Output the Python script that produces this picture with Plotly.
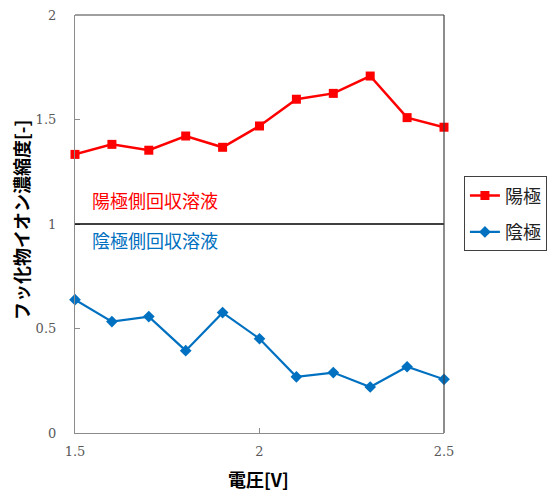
import plotly.graph_objects as go

# Applied voltage [V]
voltage = [1.5, 1.6, 1.7, 1.8, 1.9, 2.0, 2.1, 2.2, 2.3, 2.4, 2.5]
# Fluoride ion concentration ratio, anode side
anode = [1.333, 1.381, 1.353, 1.421, 1.367, 1.469, 1.597, 1.625, 1.708, 1.509, 1.463]
# Fluoride ion concentration ratio, cathode side
cathode = [0.638, 0.533, 0.557, 0.394, 0.576, 0.451, 0.269, 0.289, 0.220, 0.317, 0.257]

series_names = ["陽極", "陰極"]
x_title = "電圧[V]"
y_title = "フッ化物イオン濃縮度[-]"
region_labels = ["陽極側回収溶液", "陰極側回収溶液"]

RED = "#FF0000"
BLUE = "#0070C0"
JP = "Noto Sans CJK JP"
NUM = "DejaVu Serif"

fig = go.Figure()
fig.add_trace(go.Scatter(
    x=voltage, y=anode, name=series_names[0], mode="lines+markers",
    legendgroup="a",
    line=dict(color=RED, width=2.5),
    marker=dict(symbol="square", size=9, color=RED),
    cliponaxis=False,
))
fig.add_trace(go.Scatter(
    x=voltage, y=cathode, name=series_names[1], mode="lines+markers",
    legendgroup="c",
    line=dict(color=BLUE, width=2.2),
    marker=dict(symbol="diamond", size=9, color=BLUE),
    cliponaxis=False,
))

# reference level at ratio 1
fig.add_shape(type="line", xref="paper", x0=0, x1=1, yref="y", y0=1, y1=1,
              line=dict(color="#000000", width=1.5))
# darker frame on top and right
fig.add_shape(type="line", xref="paper", yref="paper", x0=0, x1=1, y0=1, y1=1,
              line=dict(color="#404040", width=1.2))
fig.add_shape(type="line", xref="paper", yref="paper", x0=1, x1=1, y0=0, y1=1,
              line=dict(color="#404040", width=1.2))

fig.add_annotation(x=1.54, y=1.117, xref="x", yref="y", text=region_labels[0],
                   showarrow=False, xanchor="left", yanchor="middle",
                   font=dict(family=JP, size=18, color=RED))
fig.add_annotation(x=1.54, y=0.922, xref="x", yref="y", text=region_labels[1],
                   showarrow=False, xanchor="left", yanchor="middle",
                   font=dict(family=JP, size=18, color=BLUE))

# axis titles
fig.add_annotation(x=0.496, y=-0.11, xref="paper", yref="paper",
                   text=f"<b>{x_title}</b>", showarrow=False,
                   xanchor="center", yanchor="middle",
                   font=dict(family=JP, size=18, color="#000000"))
fig.add_annotation(x=-0.146, y=0.51, xref="paper", yref="paper",
                   text=f"<b>{y_title}</b>", showarrow=False, textangle=-90,
                   xanchor="center", yanchor="middle",
                   font=dict(family=JP, size=18, color="#000000"))

fig.update_layout(
    width=558, height=493,
    margin=dict(l=75, r=114, t=15, b=60, autoexpand=False),
    paper_bgcolor="white", plot_bgcolor="white",
    showlegend=True,
    legend=dict(
        x=1.054, y=0.614, xanchor="left", yanchor="top",
        bordercolor="#404040", borderwidth=1,
        font=dict(family=JP, size=18, color="#222222"),
        bgcolor="white",
        tracegroupgap=10,
    ),
    xaxis=dict(
        range=[1.5, 2.5], dtick=0.5, tick0=1.5,
        showgrid=False, zeroline=False, automargin=False,
        showline=True, linecolor="#8c8c8c", linewidth=1.2,
        ticks="inside", ticklen=5, tickcolor="#8c8c8c",
        tickfont=dict(family=NUM, size=13, color="#595959"),
        ticklabelstandoff=6,
    ),
    yaxis=dict(
        range=[0, 2], dtick=0.5,
        showgrid=False, zeroline=False, automargin=False,
        showline=True, linecolor="#8c8c8c", linewidth=1.2,
        ticks="inside", ticklen=5, tickcolor="#8c8c8c",
        tickfont=dict(family=NUM, size=13, color="#595959"),
        ticklabelstandoff=15,
    ),
)

fig.write_html("out.html")
